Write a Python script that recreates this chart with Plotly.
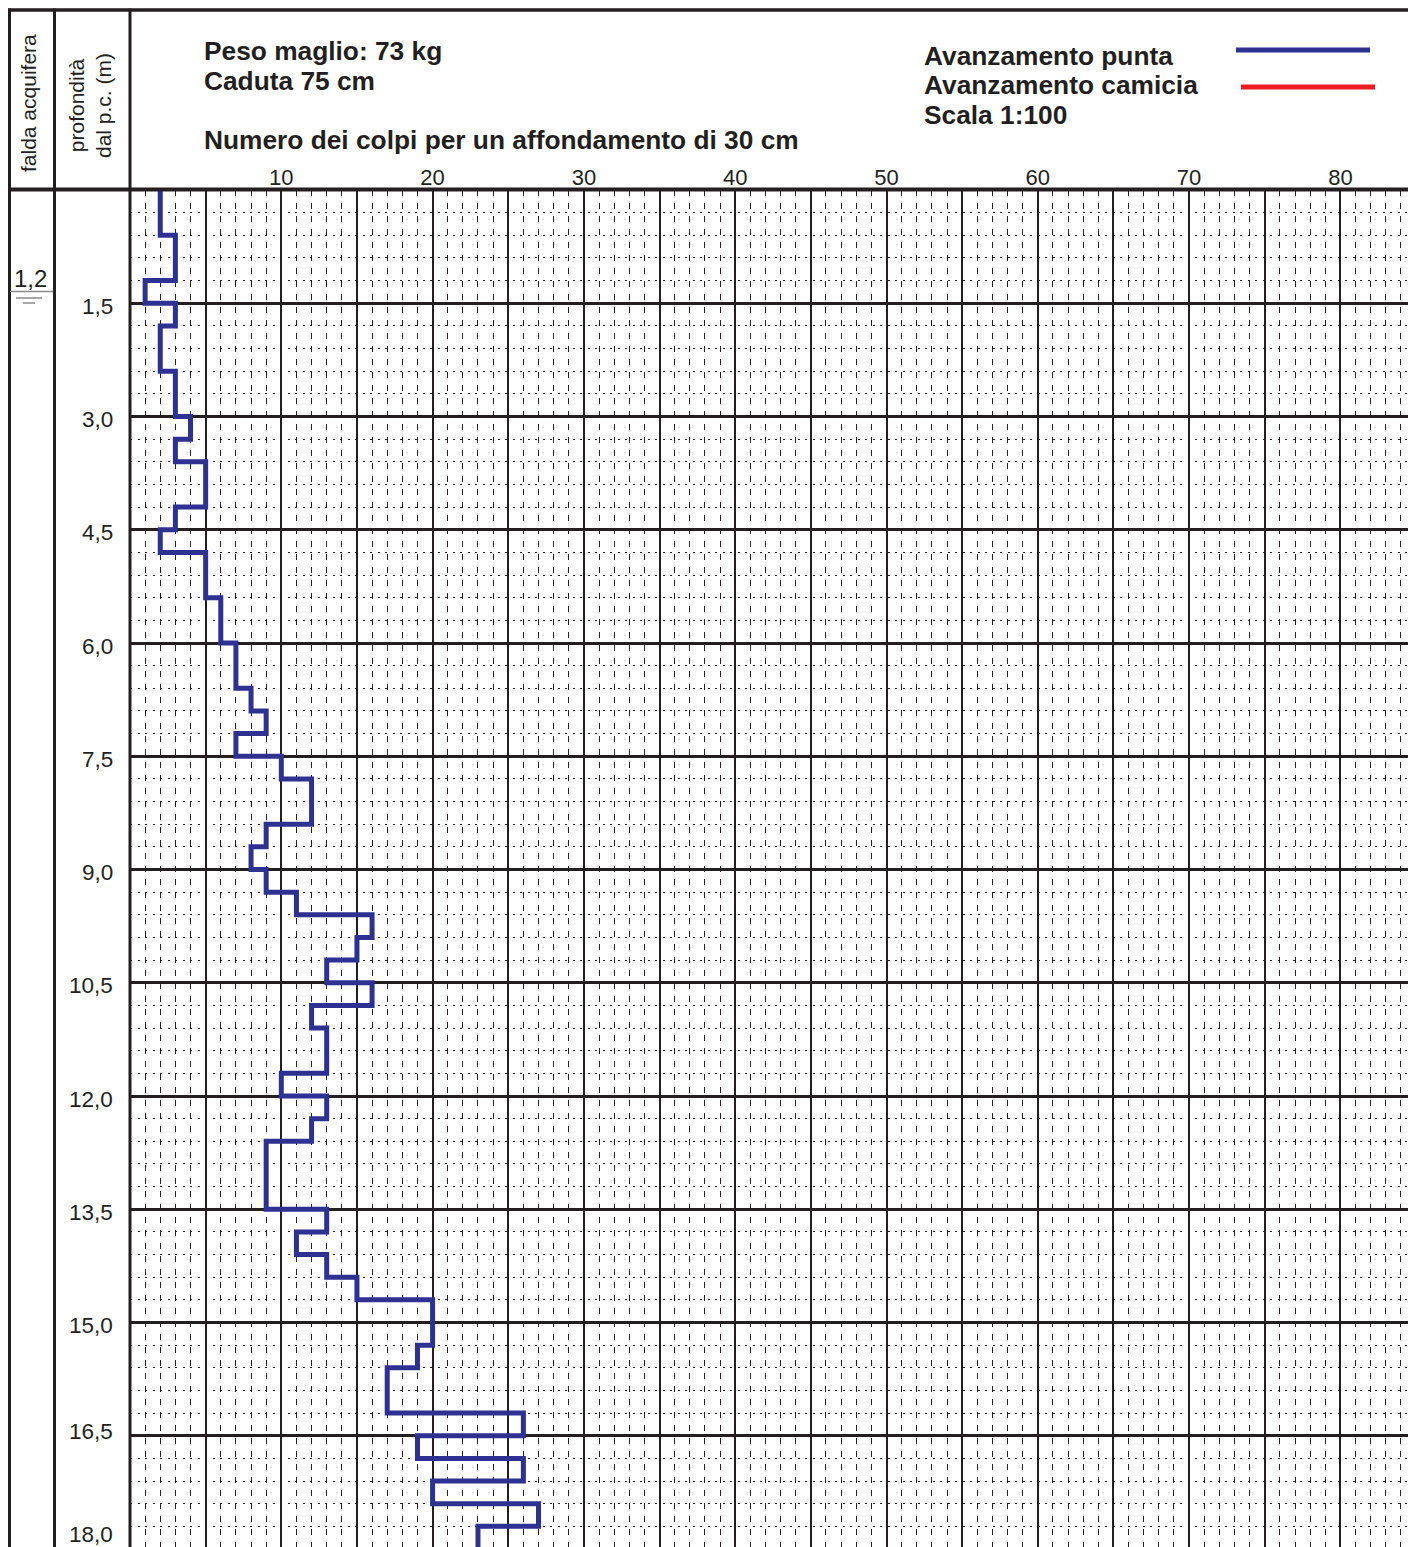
import plotly.graph_objects as go

# ---------------- data ----------------
# depth of the top of each 30 cm interval (m)
depth_tops = [0.0, 0.3, 0.6, 0.9, 1.2, 1.5, 1.8, 2.1, 2.4, 2.7,
              3.0, 3.3, 3.6, 3.9, 4.2, 4.5, 4.8, 5.1, 5.4, 5.7,
              6.0, 6.3, 6.6, 6.9, 7.2, 7.5, 7.8, 8.1, 8.4, 8.7,
              9.0, 9.3, 9.6, 9.9, 10.2, 10.5, 10.8, 11.1, 11.4, 11.7,
              12.0, 12.3, 12.6, 12.9, 13.2, 13.5, 13.8, 14.1, 14.4, 14.7,
              15.0, 15.3, 15.6, 15.9, 16.2, 16.5, 16.8, 17.1, 17.4, 17.7]
end_depth = 18.0
# number of blows per 30 cm (Avanzamento punta)
colpi_punta = [2, 2, 3, 3, 1, 3, 2, 2, 3, 3,
               4, 3, 5, 5, 3, 2, 5, 5, 6, 6,
               7, 7, 8, 9, 7, 10, 12, 12, 9, 8,
               9, 11, 16, 15, 13, 16, 12, 13, 13, 10,
               13, 12, 9, 9, 9, 13, 11, 13, 15, 20,
               20, 19, 17, 17, 26, 19, 26, 20, 27, 23]

x_tick_vals = [10, 20, 30, 40, 50, 60, 70, 80]
x_tick_text = ["10", "20", "30", "40", "50", "60", "70", "80"]
depth_tick_vals = [1.5, 3.0, 4.5, 6.0, 7.5, 9.0, 10.5, 12.0, 13.5, 15.0, 16.5, 18.0]
depth_tick_text = ["1,5", "3,0", "4,5", "6,0", "7,5", "9,0", "10,5", "12,0", "13,5", "15,0", "16,5", "18,0"]
falda_depth_label = "1,2"

title_lines = ["Peso maglio: 73 kg", "Caduta 75 cm"]
axis_title = "Numero dei colpi per un affondamento di 30 cm"
legend_names = ["Avanzamento punta", "Avanzamento camicia"]
scale_text = "Scala 1:100"

# ---------------- layout constants ----------------
W, H = 1408, 1547
PL, PT = 130, 190           # plot area left / top (px)
PX_PER_UNIT = 15.13
PX_PER_M = 75.5
x_max = (W - PL) / PX_PER_UNIT
y_max = (H - PT) / PX_PER_M

INK = "#231f20"
BLUE = "#2e3192"
RED = "#ed1c24"
FONT = "Liberation Sans, Arial, sans-serif"


def px(xp):
    return (xp - PL) / (W - PL)


def py(yp):
    return (H - yp) / (H - PT)


fig = go.Figure()

fig.add_trace(go.Scatter(
    x=colpi_punta + [colpi_punta[-1]],
    y=depth_tops + [end_depth],
    mode="lines",
    line=dict(color=BLUE, width=5, shape="vh"),
    name=legend_names[0],
    showlegend=False,
    hoverinfo="x+y",
))

grid_major = list(range(0, 90, 5))
grid_text = [x_tick_text[x_tick_vals.index(v)] if v in x_tick_vals else "" for v in grid_major]

fig.update_layout(
    width=W, height=H,
    margin=dict(l=PL, r=0, t=PT, b=0, pad=0),
    paper_bgcolor="white", plot_bgcolor="white",
    font=dict(family=FONT, color=INK),
    xaxis=dict(
        range=[0, x_max], side="top",
        tickmode="array", tickvals=grid_major, ticktext=grid_text,
        tickfont=dict(size=22, color=INK, family=FONT),
        ticks="", showline=False, zeroline=False,
        showgrid=True, gridcolor=INK, gridwidth=1.6,
        minor=dict(dtick=1, tick0=0, showgrid=True, gridcolor=INK,
                   gridwidth=1.4, griddash="6px,7px", ticks=""),
        fixedrange=True,
    ),
    yaxis=dict(
        range=[y_max, 0],
        tickmode="array", tickvals=depth_tick_vals, showticklabels=False,
        ticks="", showline=False, zeroline=False,
        showgrid=True, gridcolor=INK, gridwidth=2.6,
        minor=dict(dtick=0.3, tick0=0, showgrid=True, gridcolor=INK,
                   gridwidth=1.3, griddash="2px,5.5px", ticks=""),
        fixedrange=True,
    ),
)

shapes = []


def hline(y, x0, x1, w, color=INK):
    shapes.append(dict(type="line", xref="paper", yref="paper",
                       x0=px(x0), x1=px(x1), y0=py(y), y1=py(y),
                       line=dict(color=color, width=w)))


def vline(x, y0, y1, w, color=INK):
    shapes.append(dict(type="line", xref="paper", yref="paper",
                       x0=px(x), x1=px(x), y0=py(y0), y1=py(y1),
                       line=dict(color=color, width=w)))


# frame lines
hline(10, 8, W + 5, 3.5)
hline(189.5, 8, W + 5, 4)
vline(9.5, 8.5, H + 5, 3)
vline(54.5, 8.5, H + 5, 3)
vline(130, 8.5, H + 5, 3)

# water table marker
hline(291.5, 10, 53, 1.5, "#8a8a8a")
hline(298, 16, 42, 1.5, "#8a8a8a")
hline(303, 23, 35, 1.5, "#8a8a8a")

# legend lines
hline(50, 1236, 1370, 5, BLUE)
hline(87, 1241, 1375, 5, RED)

fig.update_layout(shapes=shapes)

ann = []


def text(x, y, s, size, bold=False, anchor="left", angle=0, yanchor="middle"):
    ann.append(dict(xref="paper", yref="paper", x=px(x), y=py(y),
                    text=f"<b>{s}</b>" if bold else s, showarrow=False,
                    xanchor=anchor, yanchor=yanchor, textangle=angle,
                    font=dict(size=size, color=INK, family=FONT)))


text(202, 51, title_lines[0], 26.3, bold=True)
text(202, 81, title_lines[1], 26.3, bold=True)
text(202, 140, axis_title, 26.3, bold=True)
text(922, 56, legend_names[0], 26.3, bold=True)
text(922, 85, legend_names[1], 26.3, bold=True)
text(922, 115, scale_text, 26.3, bold=True)

text(28, 103, "falda acquifera", 21, angle=-90, anchor="center")
text(90, 106, "profondità<br>dal p.c. (m)", 21, angle=-90, anchor="center")

text(30, 278, falda_depth_label, 24, anchor="center")

for d, s in zip(depth_tick_vals, depth_tick_text):
    ypx = PT + d * PX_PER_M
    ypx = min(ypx, H - 16)
    if d == 16.5:
        ypx -= 7
    text(115, ypx + 3, s, 22.5, anchor="right")

fig.update_layout(annotations=ann)

fig.write_html("out.html")
